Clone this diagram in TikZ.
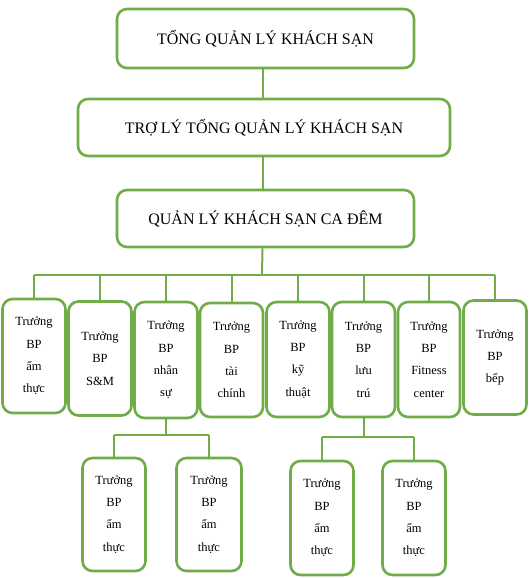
\documentclass[tikz,border=0pt]{standalone}
\usepackage{fontspec}
\setmainfont{Liberation Serif}
\definecolor{boxgreen}{HTML}{70AD47}
\begin{document}
\begin{tikzpicture}[x=1pt,y=-1pt,
  bigbox/.style={draw=boxgreen,line width=2.6pt,rounded corners=10pt,inner sep=0pt,
    font=\fontsize{16}{19}\selectfont},
  unitbox/.style={draw=boxgreen,line width=2.6pt,rounded corners=10pt,inner sep=0pt,
    minimum width=63pt,minimum height=114pt,align=center,
    font=\fontsize{12.5}{22.3}\selectfont},
  link/.style={draw=boxgreen,line width=2pt}]
\useasboundingbox (0,0) rectangle (528,578);
\fill[white] (0,0) rectangle (528,578);
% top boxes
\node[bigbox,minimum width=297pt,minimum height=59pt] (gm) at (265.5,38.5) {TỔNG QUẢN LÝ KHÁCH SẠN};
\node[bigbox,minimum width=372pt,minimum height=57pt] (agm) at (264,127.5) {TRỢ LÝ TỔNG QUẢN LÝ KHÁCH SẠN};
\node[bigbox,minimum width=297pt,minimum height=57pt] (nm) at (265.5,218.5) {QUẢN LÝ KHÁCH SẠN CA ĐÊM};
% row of departments
\node[unitbox] (b1) at (34,356) {Trưởng\\BP\\ẩm\\thực};
\node[unitbox] (b2) at (100,358.5) {Trưởng\\BP\\S\&M};
\node[unitbox,minimum height=116pt] (b3) at (166,360) {Trưởng\\BP\\nhân\\sự};
\node[unitbox] (b4) at (231.5,360) {Trưởng\\BP\\tài\\chính};
\node[unitbox,minimum height=115pt] (b5) at (298,359.5) {Trưởng\\BP\\kỹ\\thuật};
\node[unitbox,minimum height=115pt] (b6) at (363.5,359.5) {Trưởng\\BP\\lưu\\trú};
\node[unitbox,minimum width=62pt,minimum height=115pt] (b7) at (429,359.5) {Trưởng\\BP\\Fitness\\center};
\node[unitbox] (b8) at (495,357.5) {Trưởng\\BP\\bếp};
% sub units
\node[unitbox,minimum height=113pt] (s1) at (114,514.5) {Trưởng\\BP\\ẩm\\thực};
\node[unitbox,minimum width=65pt,minimum height=113pt] (s2) at (209,514.5) {Trưởng\\BP\\ẩm\\thực};
\node[unitbox] (s3) at (322,518) {Trưởng\\BP\\ẩm\\thực};
\node[unitbox] (s4) at (414,518) {Trưởng\\BP\\ẩm\\thực};
% bus coordinates
\coordinate (bus) at (262,275);
\coordinate (busL) at (166,435);
\coordinate (busR) at (363.5,437);
% connectors
\draw[link] ([xshift=-3pt]gm.south) -- ([xshift=-1.5pt]agm.north);
\draw[link] ([xshift=-1.5pt]agm.south) -- ([xshift=-3pt]nm.north);
\draw[link] ([xshift=-3pt]nm.south) -- (bus);
\draw[link] (b1.north |- bus) -- (b8.north |- bus);
\foreach \b in {b1,b2,b3,b4,b5,b6,b7,b8}{
  \draw[link] (\b.north |- bus) -- (\b.north);
}
\draw[link] (b3.south) -- (busL);
\draw[link] (s1.north |- busL) -- (s2.north |- busL);
\draw[link] (s1.north |- busL) -- (s1.north);
\draw[link] (s2.north |- busL) -- (s2.north);
\draw[link] (b6.south) -- (busR);
\draw[link] (s3.north |- busR) -- (s4.north |- busR);
\draw[link] (s3.north |- busR) -- (s3.north);
\draw[link] (s4.north |- busR) -- (s4.north);
\end{tikzpicture}
\end{document}
